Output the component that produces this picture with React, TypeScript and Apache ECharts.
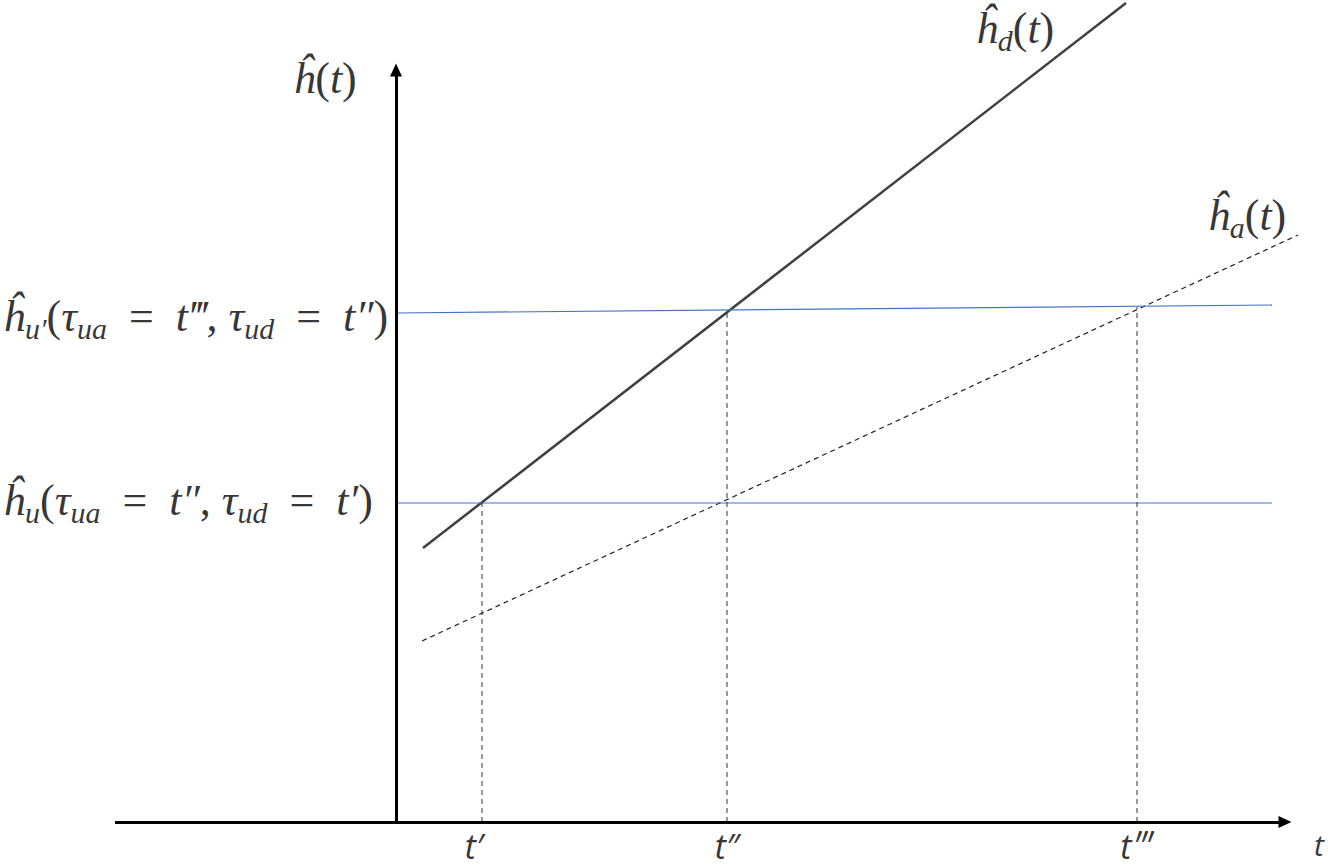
import React, { useEffect, useRef } from "react";
import * as echarts from "echarts";

// Diagram units: vertical axis at t = 0, horizontal axis at h = 0
const axisX = [-2.81, 8.89]; // horizontal axis extent (t)
const axisYTop = 7.52; // vertical axis top (h)
const tTicks = [0.86, 3.31, 7.41]; // t', t'', t'''
const tTickLabels = ["t′", "t″", "t‴"];
const hdLine = [[0.27, 2.74], [7.3, 8.19]];
const haLine = [[0.26, 1.81], [9.02, 5.87]];
const huLine = [[0, 3.19], [8.76, 3.19]];
const hupLine = [[0, 5.09], [8.76, 5.17]];
const dropTops = [3.19, 5.11, 5.15];

const serif = "'Liberation Serif', 'DejaVu Serif', serif";
const sans = "'Open Sans', Lato, sans-serif";
const EQ = "\u2002=\u2002";

const rich = {
  m: { fontFamily: serif, fontStyle: "italic", fontSize: 44, color: "#000", lineHeight: 54 },
  n: { fontFamily: serif, fontSize: 44, color: "#000", lineHeight: 54 },
  s: { fontFamily: serif, fontStyle: "italic", fontSize: 30, color: "#000", lineHeight: 30, verticalAlign: "bottom" },
  a: { fontFamily: sans, fontStyle: "italic", fontSize: 34, color: "#000", lineHeight: 30 },
  b: { fontFamily: sans, fontStyle: "italic", fontSize: 30, color: "#000", lineHeight: 30 },
};

const annotations = [
  { value: [-0.71, 7.44], text: "{m|ĥ}{n|(}{m|t}{n|)}", align: "center" },
  { value: [6.19, 7.94], text: "{m|ĥ}{s|d}{n|(}{m|t}{n|)}", align: "center" },
  { value: [8.51, 6.07], text: "{m|ĥ}{s|a}{n|(}{m|t}{n|)}", align: "center" },
  {
    value: [-3.93, 5.06],
    text: `{m|ĥ}{s|u′}{n|(}{m|τ}{s|ua}{n|${EQ}}{m|t‴}{n|, }{m|τ}{s|ud}{n|${EQ}}{m|t″}{n|)}`,
    align: "left",
  },
  {
    value: [-3.93, 3.22],
    text: `{m|ĥ}{s|u}{n|(}{m|τ}{s|ua}{n|${EQ}}{m|t″}{n|, }{m|τ}{s|ud}{n|${EQ}}{m|t′}{n|)}`,
    align: "left",
  },
  ...tTicks.map((t, i) => ({ value: [t - (i === 0 ? 0.08 : 0), -0.24], text: `{a|${tTickLabels[i]}}`, align: "center" })),
  { value: [9.23, -0.22], text: "{b|t}", align: "center" },
];

export default function App() {
  const ref = useRef<HTMLDivElement>(null);
  useEffect(() => {
    if (!ref.current) return;
    const chart = echarts.init(ref.current, null, { renderer: "svg" });
    const lineBase = { type: "line", symbol: "none", silent: true, z: 2 };
    chart.setOption({
      animation: false,
      grid: { left: 0, right: 0, top: 0, bottom: 0 },
      xAxis: { type: "value", min: -3.96, max: 9.32, show: false },
      yAxis: { type: "value", min: -0.46, max: 8.22, show: false },
      series: [
        {
          ...lineBase,
          name: "axes",
          data: [],
          markLine: {
            silent: true,
            symbol: ["none", "triangle"],
            symbolSize: [12, 13],
            label: { show: false },
            lineStyle: { color: "#000", width: 3, type: "solid" },
            data: [
              [{ coord: [axisX[0], 0] }, { coord: [axisX[1], 0] }],
              [{ coord: [0, 0] }, { coord: [0, axisYTop] }],
            ],
          },
        },
        { ...lineBase, name: "h_d", data: hdLine, lineStyle: { color: "#404040", width: 2.5 } },
        { ...lineBase, name: "h_a", data: haLine, lineStyle: { color: "#222", width: 1.2, type: [5, 4] } },
        { ...lineBase, name: "h_u", data: huLine, lineStyle: { color: "#4472C4", width: 1.2 } },
        { ...lineBase, name: "h_u'", data: hupLine, lineStyle: { color: "#4472C4", width: 1.2 } },
        ...tTicks.map((t, i) => ({
          ...lineBase,
          name: "drop" + i,
          data: [[t, 0], [t, dropTops[i]]],
          lineStyle: { color: "#333", width: 1, type: [5, 4] },
        })),
        {
          type: "scatter",
          name: "labels",
          symbolSize: 0,
          silent: true,
          data: annotations.map((a) => ({
            value: a.value,
            label: {
              show: true,
              position: "inside",
              align: a.align,
              verticalAlign: "middle",
              formatter: a.text,
              rich,
            },
          })),
        },
      ],
    });
    return () => chart.dispose();
  }, []);
  return (
    <div
      ref={ref}
      style={{ position: "fixed", left: 0, top: 0, width: 1328, height: 868, background: "#fff" }}
    />
  );
}
